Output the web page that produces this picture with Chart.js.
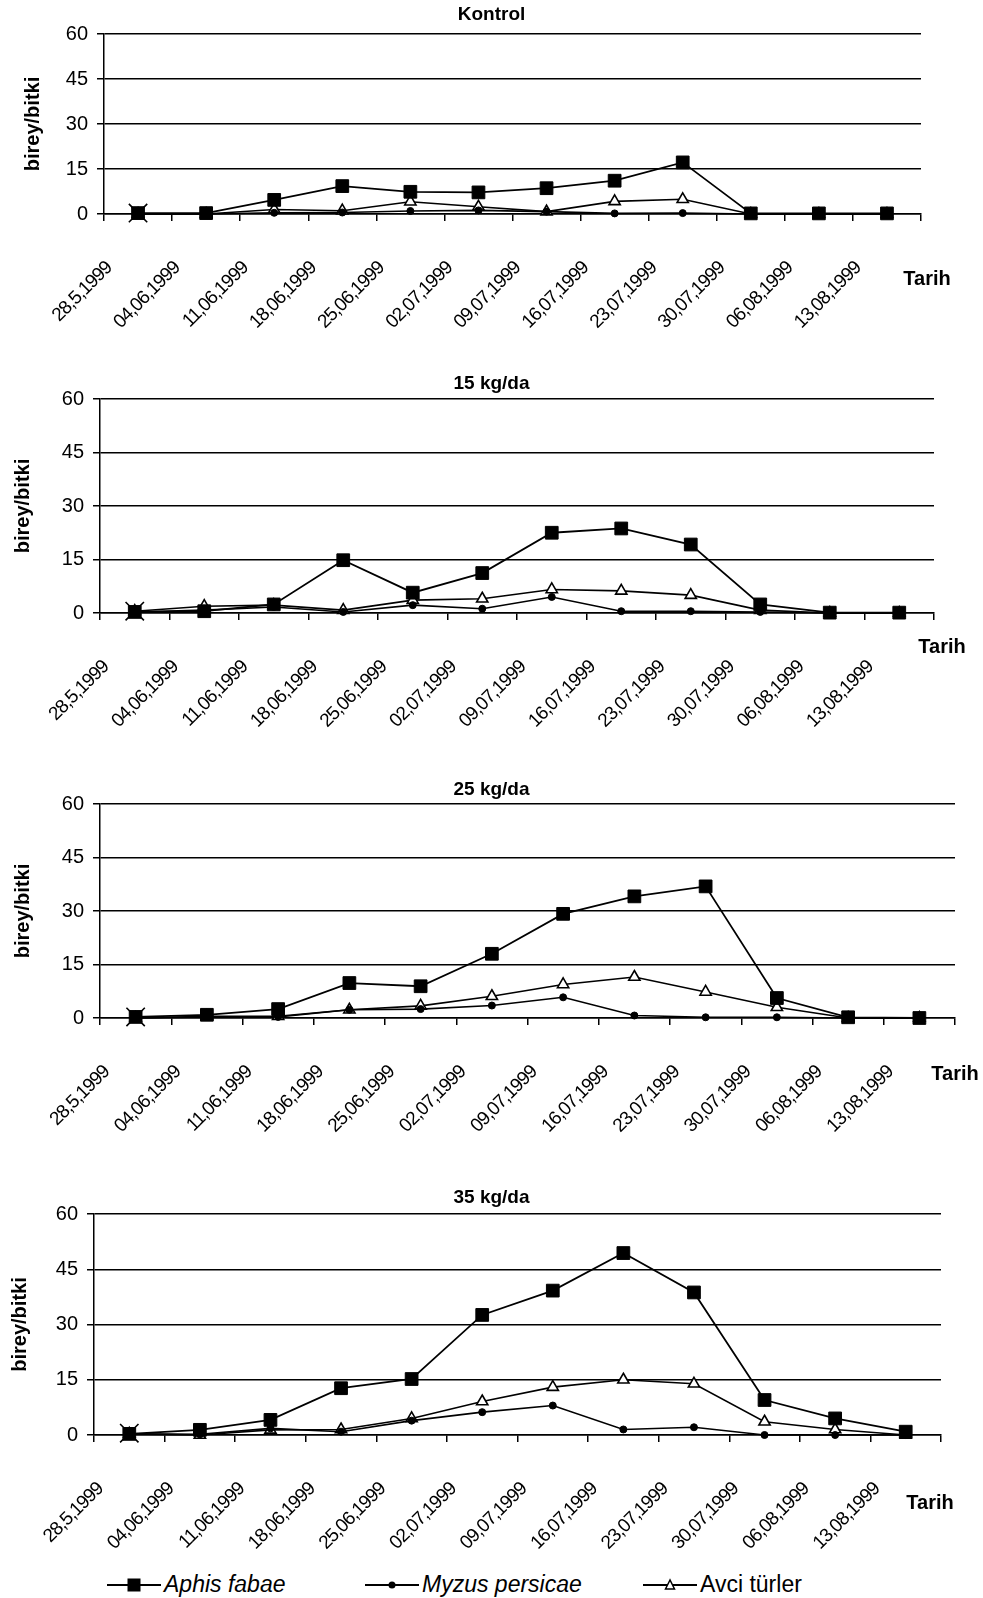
<!DOCTYPE html>
<html>
<head>
<meta charset="utf-8">
<script src="https://cdn.jsdelivr.net/npm/chart.js@4.4.1/dist/chart.umd.min.js"></script>
<style>
  html, body { margin: 0; padding: 0; background: #fff; width: 983px; height: 1598px; overflow: hidden; }
  .box { position: absolute; left: 0; width: 983px; }
  #legend { position: absolute; top: 1571px; left: 0; width: 983px; height: 27px;
            font-family: "Liberation Sans", Arial, sans-serif; font-size: 23px; color: #000; }
  .item { position: absolute; top: 0; height: 27px; display: flex; align-items: center; white-space: nowrap; }
  .item svg { margin-right: 3px; }
  .it { font-style: italic; }
</style>
</head>
<body>
<div class="box" style="top:0px;height:345px"><canvas id="c1"></canvas></div>
<div class="box" style="top:360px;height:385px"><canvas id="c2"></canvas></div>
<div class="box" style="top:760px;height:395px"><canvas id="c3"></canvas></div>
<div class="box" style="top:1170px;height:395px"><canvas id="c4"></canvas></div>

<div id="legend">
  <div class="item" style="left:107px">
    <svg width="54" height="20"><line x1="0" y1="10" x2="54" y2="10" stroke="#000" stroke-width="2"/><rect x="20.5" y="3.5" width="13" height="13" fill="#000"/></svg>
    <span class="it">Aphis fabae</span>
  </div>
  <div class="item" style="left:365px">
    <svg width="54" height="20"><line x1="0" y1="10" x2="54" y2="10" stroke="#000" stroke-width="2"/><circle cx="27" cy="10" r="3.5" fill="#000"/></svg>
    <span class="it">Myzus persicae</span>
  </div>
  <div class="item" style="left:643px">
    <svg width="54" height="20"><line x1="0" y1="10" x2="54" y2="10" stroke="#000" stroke-width="2"/><polygon points="27,5 22.5,14 31.5,14" fill="#fff" stroke="#000" stroke-width="1.5"/></svg>
    <span>Avci türler</span>
  </div>
</div>

<script>
// categories (sampling dates)
const dates = ['28,5,1999', '04,06,1999', '11,06,1999', '18,06,1999', '25,06,1999', '02,07,1999',
               '09,07,1999', '16,07,1999', '23,07,1999', '30,07,1999', '06,08,1999', '13,08,1999'];
const yTicks = [0, 15, 30, 45, 60];

// Kontrol
const kontrolAphis = [0.3, 0.3, 4.7, 9.3, 7.4, 7.2, 8.6, 11.1, 17.2, 0.2, 0.2, 0.2];
const kontrolMyzus = [0, 0, 0.4, 0.5, 1.0, 1.2, 0.8, 0.2, 0.3, 0, 0, 0];
const kontrolAvci  = [0, 0, 1.5, 1.1, 4.1, 2.4, 0.8, 4.2, 4.9, 0, 0, 0];

// 15 kg/da
const aphis15 = [0.3, 0.5, 2.4, 14.8, 5.7, 11.2, 22.5, 23.7, 19.2, 2.4, 0.1, 0.1];
const myzus15 = [0.3, 0.8, 1.7, 0.3, 2.2, 1.2, 4.5, 0.5, 0.5, 0.3, 0, 0];
const avci15  = [0.5, 1.9, 2.2, 0.8, 3.6, 4.0, 6.6, 6.2, 5.0, 0.8, 0, 0];

// 25 kg/da
const aphis25 = [0.3, 0.9, 2.5, 9.8, 8.9, 18.0, 29.2, 34.1, 36.9, 5.6, 0.2, 0];
const myzus25 = [0, 0.3, 0.3, 2.3, 2.5, 3.5, 5.8, 0.7, 0.2, 0.2, 0, 0];
const avci25  = [0, 0.5, 0.5, 2.3, 3.4, 6.1, 9.4, 11.5, 7.3, 3.0, 0, 0];

// 35 kg/da
const aphis35 = [0.3, 1.4, 4.1, 12.7, 15.2, 32.6, 39.2, 49.4, 38.7, 9.5, 4.5, 0.9];
const myzus35 = [0.3, 0.2, 1.8, 0.9, 3.9, 6.2, 8.0, 1.5, 2.1, 0, 0, 0];
const avci35  = [0.3, 0, 1.4, 1.5, 4.5, 9.1, 13.0, 15.0, 13.9, 3.6, 1.5, 0];

// the "x" mark sitting on the first date of every panel
const firstMark = [0.3, 0.5, 0.3, 0.5];

const FONT = '"Liberation Sans", Arial, sans-serif';

// writes the x axis name ("Tarih") just right of the axis end
const axisEndLabel = {
  id: 'axisEndLabel',
  afterDraw(chart, args, opts) {
    const { ctx, chartArea } = chart;
    ctx.save();
    ctx.font = 'bold 20px ' + FONT;
    ctx.fillStyle = '#000';
    ctx.textAlign = 'center';
    ctx.textBaseline = 'middle';
    ctx.fillText(opts.text, chartArea.right + opts.dx, chartArea.bottom + opts.dy);
    ctx.restore();
  }
};

// the date labels in the original are set tight, squeeze them a little
const tightDates = {
  id: 'tightDates',
  afterLayout(chart) {
    const sc = chart.scales.x;
    if (sc._tight) return;
    sc._tight = true;
    const draw = sc.drawLabels.bind(sc);
    sc.drawLabels = area => {
      const c = chart.ctx;
      c.save();
      c.letterSpacing = '-1px';
      draw(area);
      c.restore();
    };
  }
};

function makeChart(id, title, aphis, myzus, avci, mark, g) {
  const padTop = g.titleY - g.top - 11.4;
  const padBottom = g.areaTop - g.top - 22.8 - padTop;
  return new Chart(document.getElementById(id), {
    type: 'line',
    data: {
      labels: dates,
      datasets: [
        { label: 'Aphis fabae', data: aphis, borderColor: '#000', borderWidth: 1.8, clip: false,
          pointStyle: 'rect', pointRadius: 9, pointBackgroundColor: '#000',
          pointBorderColor: '#000', pointBorderWidth: 1 },
        { label: 'Myzus persicae', data: myzus, borderColor: '#000', borderWidth: 1.6, clip: false,
          pointStyle: 'circle', pointRadius: 3.5, pointBackgroundColor: '#000',
          pointBorderColor: '#000', pointBorderWidth: 1 },
        { label: 'Avci türler', data: avci, borderColor: '#000', borderWidth: 1.6, clip: false,
          pointStyle: 'triangle', pointRadius: 6.5, pointBackgroundColor: '#fff',
          pointBorderColor: '#000', pointBorderWidth: 1.6 },
        { label: 'x', data: [mark], showLine: false, order: -1, borderColor: '#000', clip: false,
          pointStyle: 'crossRot', pointRadius: 13, pointBorderColor: '#000', pointBorderWidth: 1.6 }
      ]
    },
    options: {
      responsive: true,
      maintainAspectRatio: false,
      animation: false,
      events: [],
      layout: { padding: { left: 0, right: 0, top: 0, bottom: 0 } },
      elements: { line: { tension: 0 } },
      plugins: {
        legend: { display: false },
        tooltip: { enabled: false },
        title: {
          display: true, text: title, color: '#000',
          font: { family: FONT, size: 19, weight: 'bold', lineHeight: 1.2 },
          padding: { top: padTop, bottom: padBottom }
        },
        axisEndLabel: { text: 'Tarih', dx: g.tx, dy: g.ty }
      },
      scales: {
        x: {
          type: 'category',
          offset: true,
          grid: { offset: true, drawOnChartArea: false, color: '#000', lineWidth: 1.5, tickLength: 7 },
          border: { color: '#000', width: 1.5 },
          ticks: {
            autoSkip: false, minRotation: 45, maxRotation: 45,
            labelOffset: -29, padding: 36, color: '#000',
            font: { family: FONT, size: 19 }
          },
          afterFit: s => { s.height = g.h - (g.areaBottom - g.top); }
        },
        y: {
          min: 0, max: 60,
          afterBuildTicks: s => { s.ticks = yTicks.map(v => ({ value: v })); },
          ticks: { padding: 9, color: '#000', font: { family: FONT, size: 20 } },
          grid: { color: '#000', lineWidth: 1.5, tickLength: 7 },
          border: { color: '#000', width: 1.5 },
          title: {
            display: true, text: 'birey/bitki', color: '#000',
            font: { family: FONT, size: 20, weight: 'bold', lineHeight: 1.2 },
            padding: { top: g.yTitleX - 12, bottom: 0 }
          },
          afterFit: s => { s.width = g.left; }
        },
        // empty room on the right, keeps the plot narrower than the page
        pad: {
          type: 'linear', position: 'right', display: true,
          grid: { display: false }, border: { display: false }, ticks: { display: false },
          afterFit: s => { s.width = 983 - g.right; }
        }
      }
    },
    plugins: [axisEndLabel, tightDates]
  });
}

makeChart('c1', 'Kontrol', kontrolAphis, kontrolMyzus, kontrolAvci, firstMark[0],
  { top: 0, h: 345, left: 104, right: 921, areaTop: 34, areaBottom: 214, titleY: 15, yTitleX: 33, tx: 6, ty: 65 });
makeChart('c2', '15 kg/da', aphis15, myzus15, avci15, firstMark[1],
  { top: 360, h: 385, left: 100, right: 934, areaTop: 399, areaBottom: 613, titleY: 384, yTitleX: 23, tx: 8, ty: 34 });
makeChart('c3', '25 kg/da', aphis25, myzus25, avci25, firstMark[2],
  { top: 760, h: 395, left: 100, right: 955, areaTop: 804, areaBottom: 1018, titleY: 790, yTitleX: 23, tx: 0, ty: 56 });
makeChart('c4', '35 kg/da', aphis35, myzus35, avci35, firstMark[3],
  { top: 1170, h: 395, left: 94, right: 941, areaTop: 1214, areaBottom: 1435, titleY: 1198, yTitleX: 20, tx: -11, ty: 68 });
</script>
</body>
</html>
